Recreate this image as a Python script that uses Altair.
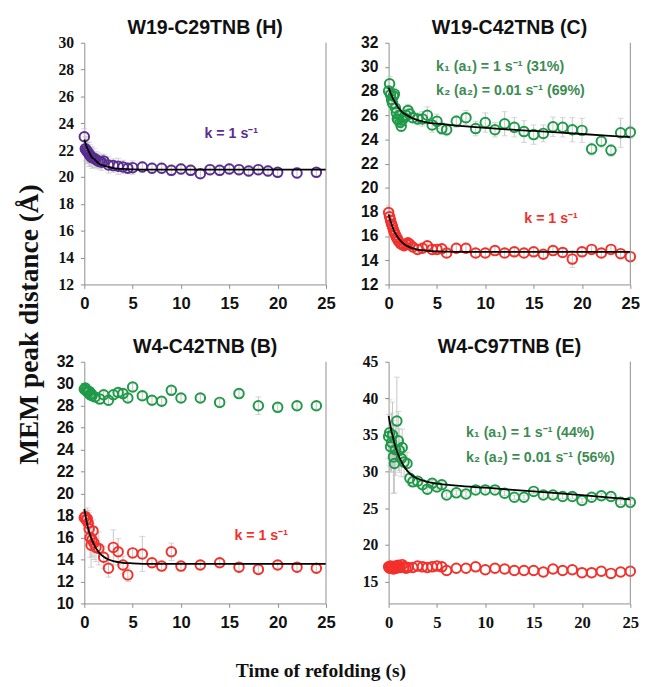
import altair as alt
import pandas as pd

# ---------------- data ----------------
# Panel 1: W19-C29TNB (H)
P1_T = [0, 0.1, 0.2, 0.3, 0.4, 0.5, 0.6, 0.7, 0.8, 1.0, 1.2, 1.4, 1.6, 1.8, 2.0, 2.5, 3.0, 3.5, 4.0, 4.5, 5.0,
        6, 7, 8, 9, 10, 11, 12, 13, 14, 15, 16, 17, 18, 19, 20, 22, 24]
P1_Y = [23.0, 22.1, 22.0, 21.9, 21.8, 21.7, 21.6, 21.5, 21.45, 21.4, 21.3, 21.2, 21.15, 21.1, 21.2, 20.9, 20.85, 20.8,
        20.75, 20.65, 20.7, 20.75, 20.65, 20.65, 20.5, 20.6, 20.5, 20.25, 20.55, 20.5, 20.6, 20.55, 20.45, 20.55,
        20.45, 20.35, 20.3, 20.35]
P1_E = [0.6, 0.9, 1.0, 0.9, 0.8, 0.9, 0.8, 0.7, 0.8, 0.7, 0.6, 0.6, 0.5, 0.6, 0.5, 0.6, 0.5, 0.6, 0.5, 0.4, 0.5,
        0.4, 0.4, 0.4, 0.4, 0.4, 0.4, 0.3, 0.4, 0.4, 0.4, 0.4, 0.4, 0.4, 0.4, 0.3, 0.4, 0.3]
P1_FIT_T = [0, 0.25, 0.5, 0.75, 1, 1.5, 2, 2.5, 3, 4, 5, 7, 10, 15, 25]
P1_FIT_Y = [22.8, 22.25, 21.85, 21.5, 21.35, 21.0, 20.85, 20.75, 20.67, 20.6, 20.57, 20.55, 20.55, 20.55, 20.55]

# Panel 2: W19-C42TNB (C)
P2G_T = [0, 0.1, 0.2, 0.3, 0.4, 0.5, 0.6, 0.7, 0.8, 0.9, 1.0, 1.1, 1.2, 1.3, 1.4, 1.6, 1.8, 2.0, 2.2, 2.5,
         3.0, 3.5, 4.0, 4.5, 5.0, 5.5, 6, 7, 8, 9, 10, 11, 12, 13, 14, 15, 16, 17, 18, 19, 20, 21, 22, 23, 24, 25]
P2G_Y = [28.0, 28.6, 27.7, 27.3, 27.0, 27.6, 27.75, 26.6, 26.2, 25.7, 25.6, 26.0, 25.4, 25.1, 25.6, 25.8, 26.0,
         26.4, 26.1, 25.8, 25.7, 25.7, 26.0, 25.2, 25.5, 24.9, 24.8, 25.5, 25.8, 24.9, 25.4, 24.8, 25.3, 25.0,
         24.65, 24.4, 24.5, 25.05, 25.0, 24.8, 24.75, 23.2, 23.85, 23.1, 24.55, 24.6]
P2G_E = [0.4, 0.6, 0.5, 0.5, 0.5, 0.4, 0.5, 0.5, 0.4, 0.4, 0.4, 0.5, 0.4, 0.4, 0.4, 0.4, 0.5, 0.5, 0.4, 0.4,
         0.5, 0.6, 0.7, 0.6, 0.6, 0.5, 0.5, 0.5, 0.6, 0.6, 0.8, 0.6, 1.0, 0.8, 0.9, 0.8, 0.7, 0.8, 0.8, 1.0,
         1.0, 0.5, 0.5, 0.5, 1.2, 0.5]
P2G_FIT_T = [0, 0.25, 0.5, 0.75, 1, 1.5, 2, 2.5, 3, 4, 5, 7, 10, 15, 20, 25]
P2G_FIT_Y = [28.3, 27.75, 27.3, 26.95, 26.65, 26.2, 25.95, 25.75, 25.6, 25.4, 25.3, 25.15, 24.95, 24.7, 24.45, 24.2]
P2R_T = [0, 0.1, 0.2, 0.3, 0.4, 0.5, 0.6, 0.7, 0.8, 0.9, 1.0, 1.2, 1.4, 1.6, 1.8, 2.0, 2.2, 2.5,
         3.0, 3.5, 4.0, 4.5, 5.0, 5.5, 6, 7, 8, 9, 10, 11, 12, 13, 14, 15, 16, 17, 18, 19, 20, 21, 22, 23, 24, 25]
P2R_Y = [17.95, 17.6, 17.3, 17.0, 16.8, 16.5, 16.3, 16.1, 15.9, 15.8, 15.6, 15.4, 15.3, 15.2, 15.35, 15.45, 15.3,
         15.1, 14.9, 15.0, 15.2, 14.9, 14.9, 14.95, 14.6, 15.0, 15.0, 14.6, 14.6, 14.8, 14.6, 14.7, 14.6, 14.7,
         14.5, 14.8, 14.65, 14.1, 14.7, 14.9, 14.6, 14.9, 14.55, 14.3]
P2R_E = [0.6, 0.5, 0.5, 0.4, 0.4, 0.4, 0.4, 0.3, 0.3, 0.3, 0.3, 0.3, 0.3, 0.3, 0.3, 0.3, 0.3, 0.3,
         0.3, 0.3, 0.3, 0.3, 0.3, 0.3, 0.3, 0.3, 0.3, 0.3, 0.3, 0.3, 0.3, 0.3, 0.3, 0.3, 0.3, 0.3, 0.3, 0.7,
         0.3, 0.3, 0.3, 0.3, 0.3, 0.3]
P2R_FIT_T = [0, 0.25, 0.5, 0.75, 1, 1.5, 2, 2.5, 3, 4, 5, 7, 10, 25]
P2R_FIT_Y = [17.8, 17.1, 16.55, 16.15, 15.85, 15.4, 15.15, 14.98, 14.88, 14.78, 14.73, 14.7, 14.7, 14.7]

# Panel 3: W4-C42TNB (B)
P3G_T = [0, 0.1, 0.2, 0.3, 0.4, 0.5, 0.6, 0.7, 0.8, 1.1, 1.6, 2.0, 2.5, 3.0, 3.5, 4.0, 4.5,
         5, 6, 7, 8, 9, 10, 12, 14, 16, 18, 20, 22, 24]
P3G_Y = [29.5, 29.6, 29.4, 29.3, 29.2, 29.3, 29.0, 29.1, 28.9, 28.8, 28.6, 29.0, 28.5, 29.0, 29.2, 29.1, 28.7,
         29.7, 28.9, 28.5, 28.4, 29.4, 28.7, 28.7, 28.3, 29.1, 28.0, 27.85, 28.0, 28.0]
P3G_E = [0.3, 0.3, 0.3, 0.3, 0.3, 0.3, 0.3, 0.3, 0.3, 0.3, 0.3, 0.3, 0.5, 0.4, 0.3, 0.3, 0.3,
         0.3, 0.3, 0.3, 0.3, 0.3, 0.3, 0.3, 0.3, 0.3, 0.8, 0.3, 0.3, 0.3]
P3R_T = [0, 0.1, 0.2, 0.3, 0.4, 0.5, 0.6, 0.7, 0.8, 0.9, 1.0, 1.2, 1.5, 2.0, 2.5, 3.0, 3.5, 4.0, 4.5,
         5, 6, 7, 8, 9, 10, 12, 14, 16, 18, 20, 22, 24]
P3R_Y = [17.8, 17.9, 17.6, 17.7, 17.3, 16.8, 16.0, 15.3, 15.8, 16.6, 15.5, 15.1, 15.0, 14.2, 13.2, 15.1, 14.7,
         13.5, 12.6, 14.6, 14.5, 13.7, 13.4, 14.7, 13.4, 13.5, 13.7, 13.3, 13.1, 13.5, 13.3, 13.2]
P3R_E = [0.5, 0.5, 0.8, 1.0, 1.2, 1.5, 1.8, 2.0, 1.5, 1.0, 1.5, 1.3, 1.5, 1.0, 0.8, 1.6, 1.2, 0.8, 0.6,
         0.4, 1.6, 0.4, 0.4, 0.8, 0.4, 0.3, 0.3, 0.3, 0.3, 0.3, 0.3, 0.3]
P3R_FIT_T = [0, 0.25, 0.5, 0.75, 1, 1.5, 2, 2.5, 3, 4, 5, 7, 10, 25]
P3R_FIT_Y = [18.6, 17.4, 16.5, 15.85, 15.35, 14.65, 14.25, 14.0, 13.85, 13.7, 13.65, 13.6, 13.6, 13.6]

# Panel 4: W4-C97TNB (E)
P4G_T = [0, 0.1, 0.2, 0.3, 0.4, 0.5, 0.6, 0.7, 0.85, 1.0, 1.1, 1.3, 1.4, 1.6, 1.9,
         2.2, 2.5, 3.0, 3.5, 4.0, 4.5, 5.0, 5.5, 6, 7, 8, 9, 10, 11, 12, 13, 14, 15, 16, 17, 18, 19, 20,
         21, 22, 23, 24, 25]
P4G_Y = [34.8, 35.3, 33.4, 34.0, 35.0, 32.0, 31.1, 33.0, 36.9, 34.2, 32.9, 31.8, 33.3, 31.3, 31.1,
         29.1, 28.6, 28.7, 28.2, 27.6, 28.4, 27.9, 28.2, 26.8, 27.1, 26.95, 27.5, 27.5, 27.5, 27.05, 26.5, 26.5,
         27.3, 26.8, 26.8, 26.6, 26.6, 26.05, 26.5, 26.7, 26.6, 25.8, 25.8]
P4G_E = [3.0, 4.5, 3.5, 4.0, 4.5, 5.0, 4.0, 3.5, 6.0, 4.0, 3.0, 2.5, 2.5, 2.0, 1.5,
         1.0, 0.5, 0.5, 0.4, 0.4, 0.4, 0.4, 0.4, 0.3, 0.3, 0.3, 0.3, 0.3, 0.3, 0.3, 0.3, 0.3, 0.3, 0.3,
         0.3, 0.3, 0.3, 0.3, 0.3, 0.3, 0.3, 0.3, 0.3]
P4G_FIT_T = [0, 0.25, 0.5, 0.75, 1, 1.5, 2, 2.5, 3, 4, 5, 7, 10, 15, 20, 25]
P4G_FIT_Y = [37.6, 35.8, 34.4, 33.2, 32.3, 30.9, 30.0, 29.4, 29.05, 28.6, 28.35, 28.1, 27.8, 27.3, 26.8, 26.2]
P4R_T = [0, 0.1, 0.2, 0.3, 0.4, 0.5, 0.6, 0.7, 0.8, 0.9, 1.0, 1.2, 1.4, 1.6, 1.8, 2.0,
         2.5, 3.0, 3.5, 4.0, 4.5, 5.0, 5.5, 6, 7, 8, 9, 10, 11, 12, 13, 14, 15, 16, 17, 18, 19, 20,
         21, 22, 23, 24, 25]
P4R_Y = [17.0, 16.8, 17.1, 16.9, 17.0, 16.7, 16.9, 17.1, 16.8, 17.0, 17.2, 16.9, 17.3, 17.0, 16.8, 16.9,
         16.9, 17.1, 17.0, 16.9, 17.0, 17.1, 17.0, 16.5, 16.8, 16.8, 17.0, 16.6, 16.8, 16.7, 16.5, 16.5,
         16.5, 16.3, 16.7, 16.5, 16.6, 16.2, 16.2, 16.4, 16.1, 16.3, 16.4]

X_TICKS = [0, 5, 10, 15, 20, 25]
TITLES = ["W19-C29TNB (H)", "W19-C42TNB (C)", "W4-C42TNB (B)", "W4-C97TNB (E)"]
Y_LABEL = "MEM peak distance (Å)"
X_LABEL = "Time of refolding (s)"

# ---------------- style ----------------
PURPLE = "#5a2d90"
RED = "#f2302c"
GREEN = "#1e9a48"
GTEXT = "#3c8c52"
ERR = "#c6c6c6"
AXIS = "#8c8c8c"
SANS = "Liberation Sans"
SERIF = "Liberation Serif"
W = H = 247


def panel(title, ydom, yvals, yfont, xfont, series, fits, notes):
    xs = alt.Scale(domain=[0, 25], nice=False)
    ys = alt.Scale(domain=ydom, nice=False, zero=False)
    xaxis = alt.Axis(values=X_TICKS, title=None, labelFont=xfont, labelFontSize=17, labelFontWeight="bold",
                     labelColor="#111", domainColor=AXIS, tickColor=AXIS, tickSize=4, grid=False,
                     labelPadding=8, labelFlush=False)
    yaxis = alt.Axis(values=yvals, title=None, labelFont=yfont, labelFontSize=16, labelFontWeight="bold",
                     labelColor="#111", domainColor=AXIS, tickColor=AXIS, tickSize=4, grid=False,
                     labelPadding=7)

    def X(f="t"):
        return alt.X(f + ":Q", scale=xs, axis=xaxis)

    def Y(f="y"):
        return alt.Y(f + ":Q", scale=ys, axis=yaxis)

    layers = []
    pts = []
    for t, y, e, color in series:
        df = pd.DataFrame({"t": t, "y": y})
        if e is not None:
            df["lo"] = df["y"] - pd.Series(e)
            df["hi"] = df["y"] + pd.Series(e)
            base = alt.Chart(df)
            layers.append(base.mark_rule(color=ERR, strokeWidth=1).encode(x=X(), y=Y("lo"), y2="hi:Q"))
            layers.append(base.mark_tick(color=ERR, orient="horizontal", size=6, thickness=1).encode(x=X(), y=Y("lo")))
            layers.append(base.mark_tick(color=ERR, orient="horizontal", size=6, thickness=1).encode(x=X(), y=Y("hi")))
        pts.append(alt.Chart(df).mark_point(shape="circle", filled=False, size=95, strokeWidth=2,
                                            color=color, opacity=1).encode(x=X(), y=Y()))
    layers += pts
    for ft, fy in fits:
        layers.append(alt.Chart(pd.DataFrame({"t": ft, "y": fy})).mark_line(
            color="black", strokeWidth=1.8, interpolate="monotone").encode(x=X(), y=Y()))
    for nx, ny, txt, color, align in notes:
        layers.append(alt.Chart(pd.DataFrame({"t": [nx], "y": [ny], "s": [txt]})).mark_text(
            font=SANS, fontSize=14.5, fontWeight="bold", color=color, align=align, baseline="middle").encode(
            x=X(), y=Y(), text="s:N"))
    layers.append(alt.Chart(pd.DataFrame({"a": [0]})).mark_rule(color=AXIS, strokeWidth=1).encode(
        x=alt.value(W), y=alt.value(0), y2=alt.value(H)))
    return alt.layer(*layers).properties(
        width=W, height=H,
        title=alt.TitleParams(title, font=SANS, fontSize=20, fontWeight="bold", color="#111", offset=-3))


p1 = panel(TITLES[0], [12, 30], list(range(12, 31, 2)), SERIF, SANS,
           [(P1_T, P1_Y, P1_E, PURPLE)],
           [(P1_FIT_T, P1_FIT_Y)],
           [(15.2, 23.2, "k = 1 s⁻¹", PURPLE, "center")])
p2 = panel(TITLES[1], [12, 32], list(range(12, 33, 2)), SANS, SANS,
           [(P2G_T, P2G_Y, P2G_E, GREEN), (P2R_T, P2R_Y, P2R_E, RED)],
           [(P2G_FIT_T, P2G_FIT_Y), (P2R_FIT_T, P2R_FIT_Y)],
           [(4.9, 30.0, "k₁ (a₁) = 1 s⁻¹ (31%)", GTEXT, "left"),
            (4.9, 28.0, "k₂ (a₂) = 0.01 s⁻¹ (69%)", GTEXT, "left"),
            (16.8, 17.4, "k = 1 s⁻¹", RED, "center")])
p3 = panel(TITLES[2], [10, 32], list(range(10, 33, 2)), SANS, SANS,
           [(P3G_T, P3G_Y, P3G_E, GREEN), (P3R_T, P3R_Y, P3R_E, RED)],
           [(P3R_FIT_T, P3R_FIT_Y)],
           [(18.3, 16.1, "k = 1 s⁻¹", RED, "center")])
p4 = panel(TITLES[3], [12, 45], [15, 20, 25, 30, 35, 40, 45], SERIF, SERIF,
           [(P4G_T, P4G_Y, P4G_E, GREEN), (P4R_T, P4R_Y, None, RED)],
           [(P4G_FIT_T, P4G_FIT_Y)],
           [(8.0, 35.2, "k₁ (a₁) = 1 s⁻¹ (44%)", GTEXT, "left"),
            (8.0, 31.85, "k₂ (a₂) = 0.01 s⁻¹ (56%)", GTEXT, "left")])

grid = alt.concat(p1, p2, p3, p4, columns=2, spacing={"row": 26, "column": 25}).properties(
    title=alt.TitleParams(Y_LABEL, orient="left", anchor="middle", font=SERIF, fontSize=28,
                          fontWeight="bold", color="#111", offset=13))
chart = alt.vconcat(grid).properties(
    title=alt.TitleParams(X_LABEL, orient="bottom", anchor="middle", font=SERIF, fontSize=20,
                          fontWeight="bold", color="#111", offset=31, dx=-7),
    padding={"left": 8, "top": 3, "right": 5, "bottom": 5},
).configure_view(stroke=None)

chart.save("out.html", embed_options={"renderer": "svg", "actions": False})
